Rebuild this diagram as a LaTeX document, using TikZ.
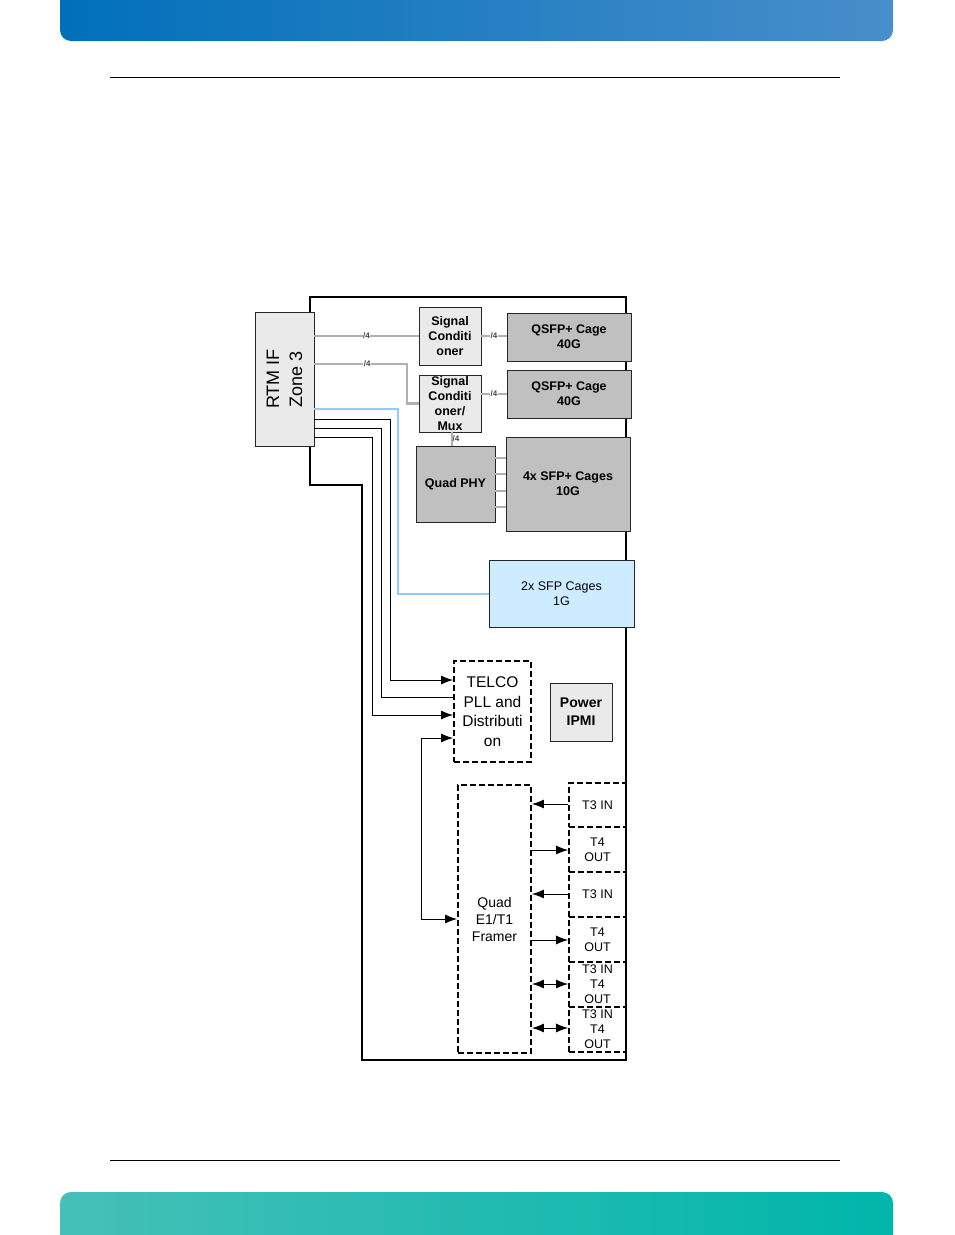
\documentclass[tikz,border=0pt]{standalone}
\usepackage{fontspec}
\setmainfont{Liberation Sans}
\usepackage{tikz}
\usetikzlibrary{arrows.meta,calc}
\definecolor{bandblue}{RGB}{0,112,186}
\definecolor{bandblueR}{RGB}{72,142,202}
\definecolor{bandteal}{RGB}{0,182,170}
\definecolor{bandtealL}{RGB}{70,192,184}
\definecolor{cagefill}{RGB}{192,192,192}
\definecolor{lightfill}{RGB}{234,234,234}
\definecolor{sfpfill}{RGB}{206,236,255}
\definecolor{sfpline}{RGB}{150,202,250}
\definecolor{busgrey}{RGB}{176,176,176}

\tikzset{
  boxlt/.style={draw=black!85,fill=lightfill,line width=0.9pt,inner sep=0pt,align=center,
    font=\fontsize{12.5}{15}\selectfont\bfseries},
  boxcage/.style={boxlt,fill=cagefill},
  boxdash/.style={draw,line width=1.8pt,dash pattern=on 6pt off 3pt,inner sep=0pt,align=center},
  gline/.style={draw=busgrey,line width=2.5pt},
  cline/.style={draw=black,line width=1pt},
  tip/.style={-{Latex[length=12pt,width=9pt]}},
  tips/.style={{Latex[length=12pt,width=9pt]}-{Latex[length=12pt,width=9pt]}},
  bus/.style={font=\fontsize{8}{8}\selectfont\bfseries,fill=white,inner sep=0.4pt,text=black!75}
}

\begin{document}
\begin{tikzpicture}[x=1pt,y=-1pt]
\useasboundingbox (0,0) rectangle (954,1235);

% page bands and rules
\shade[left color=bandblue,right color=bandblueR] (60,0) {[rounded corners=11pt] -- (60,41) -- (893,41)} -- (893,0) -- cycle;
\shade[left color=bandtealL,right color=bandteal] (60,1235) {[rounded corners=11pt] -- (60,1192) -- (893,1192)} -- (893,1235) -- cycle;
\draw[line width=1pt] (110,77) -- (840,77);
\draw[line width=1pt] (110,1160) -- (840,1160);

% board outline
\draw[line width=2pt] (310,297) -- (626,297) -- (626,1060) -- (362,1060) -- (362,485) -- (310,485) -- cycle;

% blocks
\node[boxlt,rotate=90,minimum width=134,minimum height=59,font=\fontsize{18}{23}\selectfont] (rtm) at (284.5,379) {RTM IF\\Zone 3};
\node[boxlt,minimum width=62,minimum height=58] (scA) at (450,336) {Signal\\Conditi\\oner};
\node[boxlt,minimum width=62,minimum height=57] (scB) at (450,403.5) {Signal\\Conditi\\oner/\\Mux};
\node[boxcage,minimum width=124,minimum height=48] (qsfpA) at (569,337) {QSFP+ Cage\\40G};
\node[boxcage,minimum width=124,minimum height=48] (qsfpB) at (569,394) {QSFP+ Cage\\40G};
\node[boxcage,minimum width=79,minimum height=76] (phy) at (455.5,484) {Quad PHY};
\node[boxcage,minimum width=124,minimum height=94] (sfpp) at (568,484) {4x SFP+ Cages\\10G};
\node[boxlt,fill=sfpfill,minimum width=145,minimum height=67,font=\fontsize{12.5}{15}\selectfont] (sfp) at (561.5,593.5) {2x SFP Cages\\1G};
\node[boxdash,minimum width=77,minimum height=101,font=\fontsize{15.5}{19.5}\selectfont] (telco) at (492.5,711.5) {TELCO\\PLL and\\Distributi\\on};
\node[boxlt,minimum width=62,minimum height=58,font=\fontsize{14}{18}\selectfont\bfseries] (pwr) at (581,712) {Power\\IPMI};
\node[boxdash,minimum width=73,minimum height=268,font=\fontsize{14}{17}\selectfont] (framer) at (494.5,919) {Quad\\E1/T1\\Framer};

% line interface slots
\foreach \nm/\yc/\hh/\txt in {tA/805/44/T3 IN, tB/849.5/45/T4\\OUT, tC/894.5/45/T3 IN, tD/939.5/45/T4\\OUT, tE/984.5/45/T3 IN\\T4\\OUT, tF/1029.5/45/T3 IN\\T4\\OUT}
  \node[boxdash,minimum width=57,minimum height=\hh,font=\fontsize{12.5}{15}\selectfont] (\nm) at (597.5,\yc) {\txt};
\draw[line width=2pt] (626,770) -- (626,1060);

% grey buses
\coordinate (m2) at (407,364);
\draw[gline] (rtm.south |- scA.west) -- node[bus]{/4} (scA.west);
\draw[gline] (scA.east) -- node[bus]{/4} (qsfpA.west |- scA.east);
\draw[gline] (rtm.south |- m2) -- node[bus,pos=0.57]{/4} (m2) |- (scB.west);
\draw[gline] (scB.east |- qsfpB.west) -- node[bus]{/4} (qsfpB.west);
\draw[gline] (scB.south -| 452,0) -- node[bus,right=-1pt,fill=none]{/4} (phy.north -| 452,0);
\foreach \y in {458,474,491,507}
  \draw[gline,line width=1.5pt] (phy.east |- 0,\y) -- (sfpp.west |- 0,\y);

% 1G cage link
\coordinate (b1) at (398,409);
\draw[draw=sfpline,line width=2pt] (rtm.south |- b1) -- (b1) |- (sfp.west);

% clock lines to TELCO
\coordinate (k1) at (390,419);
\coordinate (k2) at (381,428);
\coordinate (k3) at (372,437);
\draw[cline,tip] (rtm.south |- k1) -- (k1) |- (telco.west |- 0,680);
\draw[cline] (rtm.south |- k2) -- (k2) |- (telco.west |- 0,697);
\draw[cline,tip] (rtm.south |- k3) -- (k3) |- (telco.west |- 0,715);
\coordinate (k4) at (421,738);
\draw[cline,tips] (telco.west |- k4) -- (k4) |- (framer.west);

% framer to slots
\draw[cline,tip] (tA.west |- 0,804) -- (framer.east |- 0,804);
\draw[cline,tip] (framer.east |- 0,850) -- (tB.west |- 0,850);
\draw[cline,tip] (tC.west |- 0,894) -- (framer.east |- 0,894);
\draw[cline,tip] (framer.east |- 0,940) -- (tD.west |- 0,940);
\draw[cline,tips] (framer.east |- 0,984) -- (tE.west |- 0,984);
\draw[cline,tips] (framer.east |- 0,1028) -- (tF.west |- 0,1028);
\end{tikzpicture}
\end{document}
